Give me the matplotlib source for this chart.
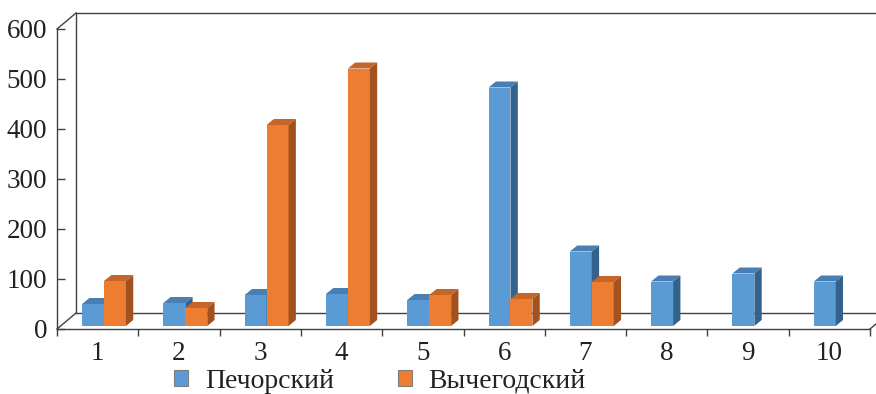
import numpy as np
import matplotlib.pyplot as plt
from matplotlib.patches import Polygon, Patch

plt.rcParams['font.family'] = ['Liberation Serif', 'DejaVu Serif']

categories = ['1', '2', '3', '4', '5', '6', '7', '8', '9', '10']
pechora = [44, 46, 62, 64, 52, 477, 149, 89, 105, 89]
vychegda = [90, 36, 402, 515, 62, 54, 88, np.nan, np.nan, np.nan]
y_ticks = [0, 100, 200, 300, 400, 500, 600]

blue = ('#5b9bd5', '#4a7fb4', '#33628c')
orange = ('#ed7d31', '#c6652a', '#a2521f')
line_col = '#404040'

# 3D look: wall/floor offset and bar depth (x in categories, y in value units)
wall_dx, wall_dy = 0.234, 32
bar_dx, bar_dy = 0.09, 12
bar_w = 0.27
shift = 0.078
base = 6

fig = plt.figure(figsize=(8.76, 3.94), dpi=100)
ax = fig.add_axes([57 / 876, 65 / 394, 813 / 876, 300 / 394])
ax.set_xlim(0.5, 10.5)
ax.set_ylim(0, 600)

# back wall and floor
kw = dict(color=line_col, lw=1.0, clip_on=False, zorder=1)
ax.plot([0.5, 0.5 + wall_dx], [0, wall_dy], **kw)
ax.plot([0.5, 0.5 + wall_dx], [600, 600 + wall_dy], **kw)
ax.plot([0.5 + wall_dx] * 2, [wall_dy, 600 + wall_dy], **kw)
ax.plot([0.5 + wall_dx, 10.5 + wall_dx], [600 + wall_dy] * 2, **kw)
ax.plot([0.5 + wall_dx, 10.5 + wall_dx], [wall_dy] * 2, **kw)
ax.plot([10.5, 10.5 + wall_dx], [0, wall_dy], **kw)


def draw_bar(xc, val, cols, z):
    if np.isnan(val):
        return
    x0, x1 = xc - bar_w / 2, xc + bar_w / 2
    top = base + val
    ax.bar(xc, val, bottom=base, width=bar_w, color=cols[0], zorder=z)
    ax.add_patch(Polygon([(x0, top), (x1, top), (x1 + bar_dx, top + bar_dy),
                          (x0 + bar_dx, top + bar_dy)], closed=True,
                         facecolor=cols[1], edgecolor='none', zorder=z))
    ax.add_patch(Polygon([(x1, base), (x1 + bar_dx, base + bar_dy),
                          (x1 + bar_dx, top + bar_dy), (x1, top)], closed=True,
                         facecolor=cols[2], edgecolor='none', zorder=z))


x = np.arange(1, len(categories) + 1)
for i, xc in enumerate(x):
    draw_bar(xc + shift - bar_w / 2, pechora[i], blue, 3 + 2 * i)
    draw_bar(xc + shift + bar_w / 2, vychegda[i], orange, 4 + 2 * i)

for s in ['top', 'right']:
    ax.spines[s].set_visible(False)
for s in ['left', 'bottom']:
    ax.spines[s].set_color(line_col)
    ax.spines[s].set_linewidth(1.0)
    ax.spines[s].set_zorder(30)

ax.set_yticks(y_ticks)
ax.tick_params(axis='y', direction='in', length=6, width=1.0, color=line_col,
               labelsize=19.5, pad=7, labelcolor='#222222')
ax.set_xticks(x)
ax.set_xticklabels(categories)
ax.set_xticks(np.arange(0.5, 11, 1), minor=True)
ax.tick_params(axis='x', which='major', length=0, labelsize=19.5, pad=9,
               labelcolor='#222222')
ax.tick_params(axis='x', which='minor', direction='out', length=5, width=1.0,
               color=line_col)

handles = [Patch(facecolor=blue[0], edgecolor='#7f7f7f', lw=0.8),
           Patch(facecolor=orange[0], edgecolor='#7f7f7f', lw=0.8)]
fig.legend(handles, ['Печорский', 'Вычегодский'], loc='center',
           bbox_to_anchor=(380 / 876, 13 / 394), ncol=2, frameon=False,
           fontsize=20, handlelength=0.5, handleheight=0.5, handletextpad=0.6,
           columnspacing=2.3, labelcolor='#222222')

fig.savefig('out.png', dpi=100)
